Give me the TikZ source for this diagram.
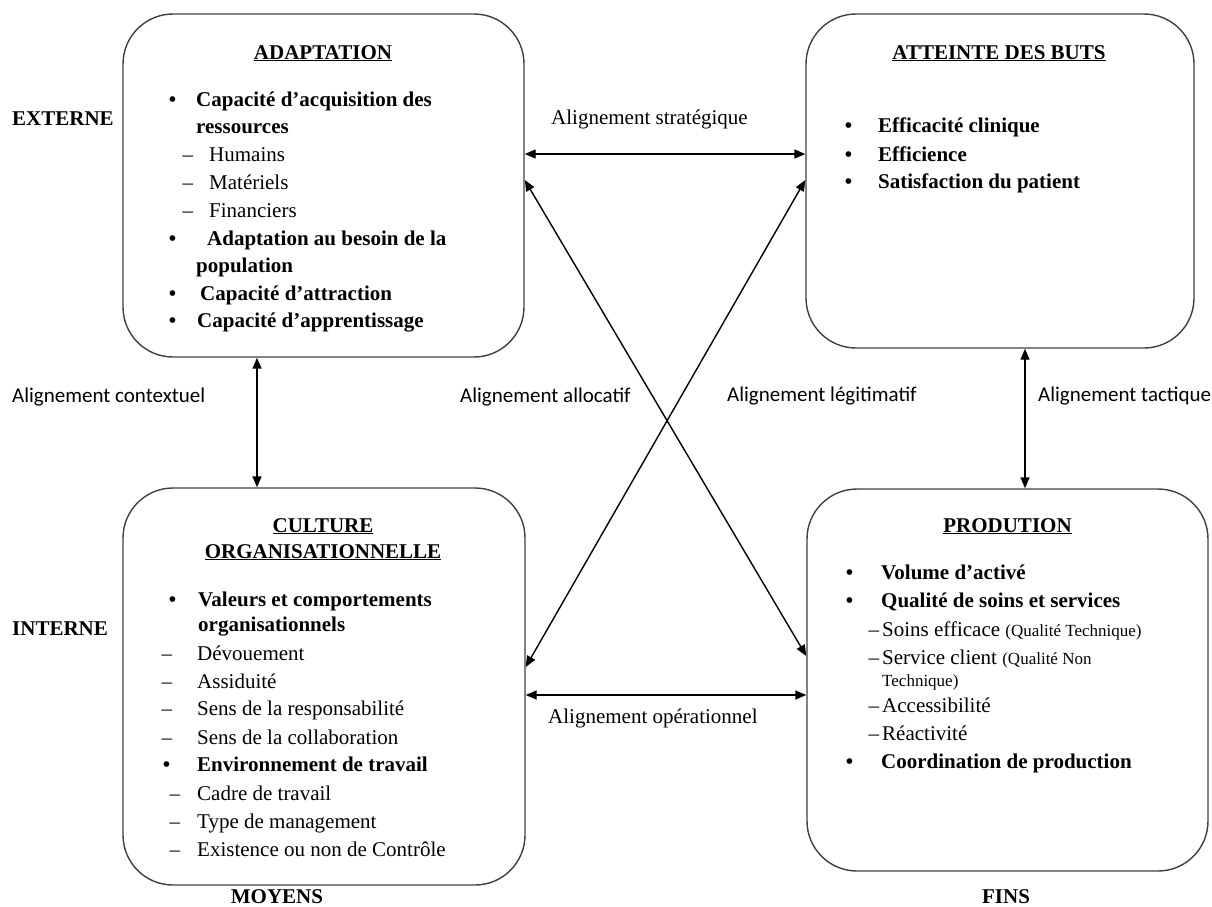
\documentclass[tikz,border=0pt]{standalone}
\usepackage{fontspec}
\setmainfont{Liberation Serif}
\newfontfamily\calibri{Carlito}
\usetikzlibrary{arrows.meta}
\newcommand\puce[1]{\llap{\textbullet\hspace{#1pt}}}
\newcommand\tiret[1]{\llap{–\hspace{#1pt}}}
\newcommand\petit{\fontsize{17}{19}\selectfont}
\begin{document}
\begin{tikzpicture}[x=1pt,y=-1pt,
	every node/.style={font=\fontsize{21}{26}\selectfont,inner sep=0pt},
	bloc/.style={draw=black!75,line width=1.4pt,shape=rectangle,rounded corners=50pt},
	ligne/.style={anchor=base west},
	gras/.style={anchor=base west,font=\fontsize{21}{26}\selectfont\bfseries},
	titre/.style={anchor=base,font=\fontsize{21}{26}\selectfont\bfseries},
	sans/.style={anchor=base west,font=\fontsize{21}{26}\selectfont\calibri},
	lien/.style={{Triangle[length=11pt,width=9pt]}-{Triangle[length=11pt,width=9pt]},line width=1.4pt}]
	\useasboundingbox (0,0) rectangle (1212,906);
	\begin{scope}
		\path (323.5,185.5) node [bloc,minimum width=401,minimum height=343] (adapt)   {};
		\path (1000,181)    node [bloc,minimum width=388,minimum height=334] (buts)    {};
		\path (324,686.5)   node [bloc,minimum width=402,minimum height=397] (culture) {};
		\path (1007.5,680)  node [bloc,minimum width=401,minimum height=382] (prod)    {};

		\path (323,59)  node [titre] (t1) {\underline{ADAPTATION}};
		\path (196,106) node [gras]  (a1) {\puce{20}Capacité d’acquisition des};
		\path (196,133) node [gras]  (a2) {ressources};
		\path (209,161) node [ligne] (a3) {\tiret{16}Humains};
		\path (209,189) node [ligne] (a4) {\tiret{16}Matériels};
		\path (209,217) node [ligne] (a5) {\tiret{16}Financiers};
		\path (207,245) node [gras]  (a6) {\puce{31}Adaptation au besoin de la};
		\path (196,272) node [gras]  (a7) {population};
		\path (200,300) node [gras]  (a8) {\puce{24}Capacité d’attraction};
		\path (197,327) node [gras]  (a9) {\puce{21}Capacité d’apprentissage};

		\path (999,59)  node [titre] (t2) {\underline{ATTEINTE DES BUTS}};
		\path (878,132) node [gras]  (b1) {\puce{26}Efficacité clinique};
		\path (878,161) node [gras]  (b2) {\puce{26}Efficience};
		\path (878,188) node [gras]  (b3) {\puce{26}Satisfaction du patient};

		\path (323,532) node [titre] (t3) {\underline{CULTURE}};
		\path (323,558) node [titre] (t4) {\underline{ORGANISATIONNELLE}};
		\path (198,606) node [gras]  (c1) {\puce{22}Valeurs et comportements};
		\path (198,631) node [gras]  (c2) {organisationnels};
		\path (197,660) node [ligne] (c3) {\tiret{25}Dévouement};
		\path (197,688) node [ligne] (c4) {\tiret{25}Assiduité};
		\path (197,715) node [ligne] (c5) {\tiret{25}Sens de la responsabilité};
		\path (197,744) node [ligne] (c6) {\tiret{25}Sens de la collaboration};
		\path (197,771) node [gras]  (c7) {\puce{27}Environnement de travail};
		\path (197,800) node [ligne] (c8) {\tiret{17}Cadre de travail};
		\path (197,828) node [ligne] (c9) {\tiret{17}Type de management};
		\path (197,856) node [ligne] (c10) {\tiret{17}Existence ou non de Contrôle};

		\path (1007.5,532) node [titre] (t5) {\underline{PRODUTION}};
		\path (881,579) node [gras]  (p1) {\puce{28}Volume d’activé};
		\path (881,607) node [gras]  (p2) {\puce{28}Qualité de soins et services};
		\path (882,636) node [ligne] (p3) {\tiret{3}Soins efficace {\petit(Qualité Technique)}};
		\path (882,664) node [ligne] (p4) {\tiret{3}Service client {\petit(Qualité Non}};
		\path (882,686) node [ligne] (p5) {\petit Technique)};
		\path (882,712) node [ligne] (p6) {\tiret{3}Accessibilité};
		\path (882,740) node [ligne] (p7) {\tiret{3}Réactivité};
		\path (881,768) node [gras]  (p8) {\puce{28}Coordination de production};

		\path (12,125)   node [gras]  (ext) {EXTERNE};
		\path (12,635)   node [gras]  (int) {INTERNE};
		\path (277,903)  node [titre] (moy) {MOYENS};
		\path (1006,903) node [titre] (fin) {FINS};

		\draw[lien] ([yshift=31.5]adapt.east)   -- ([yshift=27]buts.west);
		\draw[lien] ([xshift=-66.5]adapt.south) -- ([xshift=-67]culture.north);
		\draw[lien] ([xshift=25]buts.south)     -- ([xshift=17.5]prod.north);
		\draw[lien] ([yshift=-8.5]culture.east) -- ([yshift=-15]prod.west);
		\draw[lien] ([yshift=5.5]adapt.east)    -- ([yshift=24]prod.west);
		\draw[lien] ([yshift=1]buts.west)       -- ([yshift=19.5]culture.east);

		\path (551,124) node [ligne] (l1) {Alignement stratégique};
		\path (12,402)  node [sans]  (l2) {Alignement contextuel};
		\path (460,402) node [sans]  (l3) {Alignement allocatif};
		\path (727,401) node [sans]  (l4) {Alignement légitimatif};
		\path (1038,401) node [sans] (l5) {Alignement tactique};
		\path (548,723) node [ligne] (l6) {Alignement opérationnel};
	\end{scope}
\end{tikzpicture}
\end{document}
